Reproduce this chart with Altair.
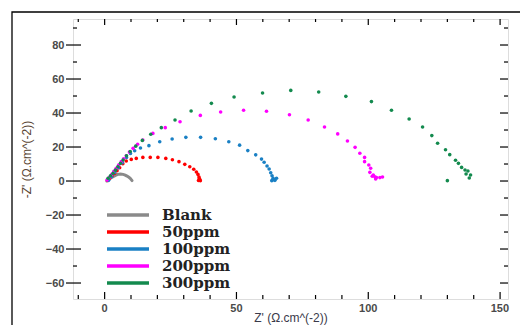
import altair as alt
import pandas as pd

series_names = ["Blank", "50ppm", "100ppm", "200ppm", "300ppm"]
series_colors = ["#8a8a8a", "#ff0000", "#1a80c4", "#ff00ff", "#138a4e"]

blank_x = [0.8, 1.3, 2.2, 3.2, 4.1, 5.0, 6.0, 7.0, 7.8, 8.5, 9.2, 9.7, 10.1, 10.4]
blank_y = [0.0, 0.6, 1.6, 2.5, 3.3, 3.9, 4.1, 3.9, 3.5, 2.9, 2.2, 1.6, 0.8, 0.2]

p50_x = [1.2, 1.9, 2.8, 3.8, 4.7, 5.7, 6.9, 8.2, 10.1, 12.0, 14.5, 17.3, 20.2, 23.2, 25.7, 28.2,
         30.4, 32.3, 33.8, 34.8, 35.4, 35.8, 36.1, 35.6, 35.9, 36.3]
p50_y = [0.3, 1.6, 3.0, 4.5, 6.1, 7.8, 10.2, 11.8, 12.7, 13.3, 13.9, 13.9, 13.9, 13.3, 12.5, 11.4,
         9.8, 8.4, 6.9, 5.3, 3.9, 2.4, 0.8, 0.3, 1.5, 0.2]

p100_x = [1.5, 2.6, 3.8, 5.2, 6.7, 8.3, 9.8, 11.4, 13.6, 16.8, 20.9, 25.6, 30.8, 36.4, 42.0, 47.1,
          51.2, 54.3, 57.3, 59.5, 60.5, 61.6, 62.4, 63.0, 63.5, 63.9, 65.2, 63.4, 64.2, 64.6]
p100_y = [0.4, 2.5, 5.0, 7.8, 10.8, 13.8, 16.2, 17.8, 19.4, 20.8, 23.1, 24.7, 25.7, 25.7, 24.9, 23.1,
          21.1, 17.9, 15.4, 12.9, 11.0, 8.8, 7.1, 4.9, 3.1, 1.6, 1.6, 0.2, 0.8, 0.4]

p200_x = [0.9, 1.8, 2.7, 3.5, 4.4, 5.3, 6.3, 7.2, 8.2, 9.4, 10.8, 12.5, 14.5, 18.3, 23.0, 28.6,
          36.3, 44.0, 52.7, 61.4, 70.1, 77.2, 83.4, 88.4, 92.1, 95.0, 96.8, 98.6, 98.6, 100.2,
          100.9, 100.6, 101.9, 102.5, 103.1, 104.4, 105.4, 102.8, 101.5]
p200_y = [0.6, 2.2, 3.9, 5.7, 7.5, 9.4, 11.4, 13.1, 14.9, 17.0, 19.2, 21.6, 24.1, 28.0, 31.4, 34.9,
          38.6, 40.6, 41.6, 41.0, 39.0, 35.9, 31.8, 27.7, 23.5, 19.8, 16.3, 13.9, 11.4, 9.4,
          7.5, 5.1, 3.5, 2.5, 2.0, 2.0, 2.4, 1.2, 2.8]

p300_x = [1.3, 2.2, 3.2, 4.1, 5.0, 6.0, 7.0, 8.3, 9.7, 11.8, 14.3, 17.5, 21.5, 26.7, 32.8, 40.5,
          49.1, 59.9, 70.6, 81.2, 91.5, 101.2, 108.8, 115.5, 120.6, 124.1, 126.3, 129.3, 130.9,
          133.1, 134.2, 135.4, 136.7, 137.8, 137.1, 138.8, 138.3, 130.0]
p300_y = [1.6, 3.0, 4.5, 6.4, 8.4, 10.4, 12.4, 14.8, 17.3, 20.5, 23.9, 27.5, 31.4, 35.9, 41.2, 45.7,
          49.4, 51.8, 53.3, 52.4, 49.8, 46.7, 41.6, 36.5, 31.8, 26.7, 22.2, 18.4, 15.5,
          12.2, 10.4, 8.0, 6.5, 5.9, 4.1, 3.5, 1.8, 0.2]

x_major = [0, 50, 100, 150]
x_labels = ["0", "50", "100", "150"]
x_minor = [-10, 10, 20, 30, 40, 60, 70, 80, 90, 110, 120, 130, 140]
y_major = [-60, -40, -20, 0, 20, 40, 60, 80]
y_minor = [-50, -30, -10, 10, 30, 50, 70, 90]

W, H = 435, 280

blank_df = pd.DataFrame({"x": blank_x, "y": blank_y, "series": "Blank"})
pts = []
for name, xs, ys in [("50ppm", p50_x, p50_y), ("100ppm", p100_x, p100_y),
                     ("200ppm", p200_x, p200_y), ("300ppm", p300_x, p300_y)]:
    pts.append(pd.DataFrame({"x": xs, "y": ys, "series": name}))
pts_df = pd.concat(pts, ignore_index=True)

xscale = alt.Scale(domain=[-12, 153], nice=False, zero=False)
yscale = alt.Scale(domain=[-69.4, 95.3], nice=False, zero=False)

color = alt.Color(
    "series:N",
    scale=alt.Scale(domain=series_names, range=series_colors),
    sort=series_names,
    legend=alt.Legend(
        title=None, orient="none", legendX=46, legendY=187,
        symbolType="M-3,0H3", symbolSize=196, symbolStrokeWidth=3.5,
        labelFont="DejaVu Serif", labelFontWeight="bold", labelFontSize=15,
        labelColor="#222222", labelOffset=25, rowPadding=-1,
    ),
)

xaxis = alt.Axis(values=x_major, ticks=False, domain=False, grid=False, labels=False,
                 titleFont="Liberation Sans", titleFontSize=12, titleFontWeight="normal",
                 titleColor="#3a3a4a", titleBaseline="bottom", titleY=25)
yaxis = alt.Axis(values=y_major, ticks=False, domain=False, grid=False, tickCount=20,
                 labelOverlap=False, labelFlush=False, labelBound=False, labelPadding=9,
                 labelFont="Liberation Sans",
                 labelFontSize=11, labelFontWeight="bold", labelColor="#4a4a4a",
                 titleFont="Liberation Sans", titleFontSize=12, titleFontWeight="normal",
                 titleColor="#5a4634", titleBaseline="middle", titleX=-47)

def xenc():
    return alt.X("x:Q", scale=xscale, title="Z' (Ω.cm^(-2))", axis=xaxis)

def yenc():
    return alt.Y("y:Q", scale=yscale, title="-Z' (Ω.cm^(-2))", axis=yaxis)

blank_layer = alt.Chart(blank_df).mark_line(strokeWidth=3, strokeCap="round").encode(
    x=xenc(), y=yenc(), color=color)
pts_layer = alt.Chart(pts_df).mark_circle(size=13, opacity=1).encode(
    x=xenc(), y=yenc(), color=color)

xmaj = pd.DataFrame({"x": x_major, "label": x_labels})
xmin = pd.DataFrame({"x": x_minor})
ymaj = pd.DataFrame({"y": y_major})
ymin = pd.DataFrame({"y": y_minor})

def rule_layer(df, **enc):
    return alt.Chart(df).mark_rule(color="black", strokeWidth=1.2).encode(**enc)

ticks = [
    rule_layer(xmaj, x=xenc(), y=alt.value(H), y2=alt.value(H - 7)),
    rule_layer(xmin, x=xenc(), y=alt.value(H), y2=alt.value(H - 4)),
    rule_layer(xmaj, x=xenc(), y=alt.value(0), y2=alt.value(6)),
    rule_layer(xmin, x=xenc(), y=alt.value(0), y2=alt.value(3)),
    rule_layer(ymaj, y=yenc(), x=alt.value(-7), x2=alt.value(8)),
    rule_layer(ymin, y=yenc(), x=alt.value(0), x2=alt.value(4)),
    rule_layer(ymaj, y=yenc(), x=alt.value(W), x2=alt.value(W - 8)),
    rule_layer(ymin, y=yenc(), x=alt.value(W), x2=alt.value(W - 4)),
]

text_style = dict(baseline="top", font="Liberation Sans", fontSize=11,
                  fontWeight="bold", color="#4a4a4a")
xlabels_mid = alt.Chart(xmaj.iloc[:3]).mark_text(align="center", **text_style).encode(
    x=xenc(), y=alt.value(H + 4), text="label:N")
xlabels_end = alt.Chart(xmaj.iloc[3:]).mark_text(align="right", dx=9, **text_style).encode(
    x=xenc(), y=alt.value(H + 4), text="label:N")

frame = alt.Chart(pd.DataFrame({"x": [0]})).mark_rect(
    filled=False, stroke="black", strokeWidth=1.3).encode(
    x=alt.value(-61), x2=alt.value(470), y=alt.value(-7), y2=alt.value(330))

chart = alt.layer(frame, blank_layer, pts_layer, *ticks, xlabels_mid, xlabels_end).properties(
    width=W, height=H,
    autosize=alt.AutoSizeParams(type="none"),
    padding={"left": 73, "top": 19, "right": 12, "bottom": 26},
).configure_view(stroke="black", strokeWidth=1.5).configure(background="white")

chart.save("out.html", embed_options={"renderer": "svg", "actions": False})
